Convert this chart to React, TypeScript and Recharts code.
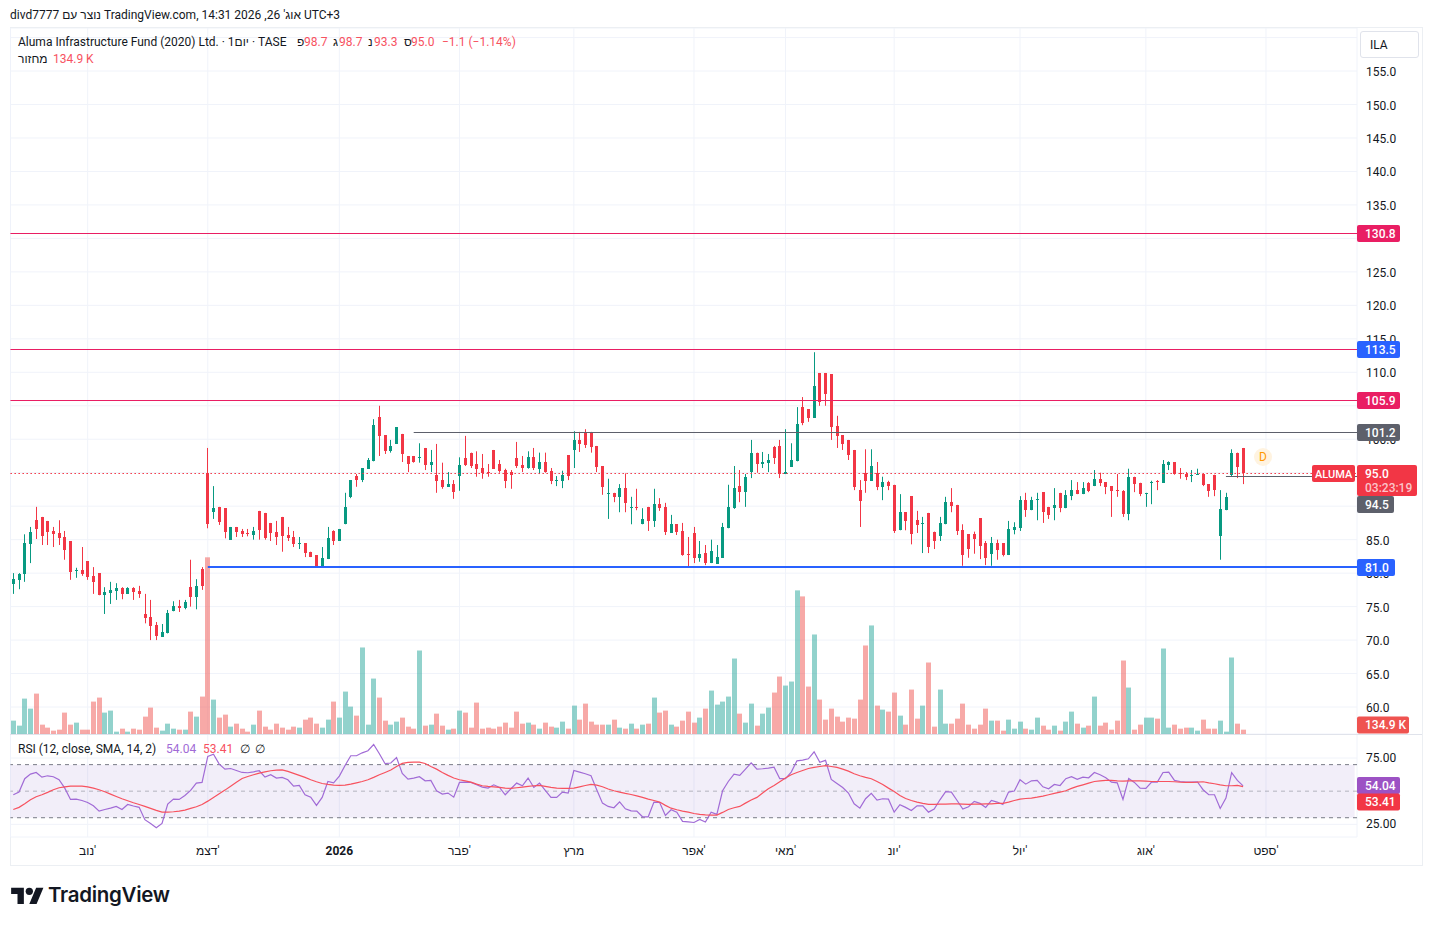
// Daily candlestick chart with volume and an RSI pane, TradingView-style.
// Three stacked Recharts charts share one band x axis of fixed slot width.

import { Bar, CartesianGrid, ComposedChart, Line, ReferenceArea, ReferenceLine, XAxis, YAxis } from "recharts";

const opens = [
  78.4, 79.0, 79.9, 84.3, 87.9, 88.4, 87.8, 86.3, 86.0, 85.4,
  84.8, 80.3, 80.5, 81.8, 79.6, 80.0, 76.7, 77.0, 77.3, 77.8,
  76.9, 77.8, 77.3, 73.9, 73.4, 72.2, 70.5, 71.0, 74.3, 75.1,
  74.8, 77.9, 76.4, 80.6, 94.9, 89.1, 89.9, 89.7, 85.0, 86.9,
  86.3, 86.0, 85.7, 89.3, 89.0, 87.5, 86.1, 88.4, 85.7, 85.4,
  84.3, 84.5, 83.2, 82.7, 81.0, 82.1, 86.3, 84.8, 87.3, 91.4,
  94.5, 93.9, 95.6, 96.7, 103.3, 100.6, 98.2, 99.3, 100.8, 97.5,
  97.5, 97.2, 98.7, 96.1, 94.7, 93.9, 92.9, 93.3, 94.4, 97.2,
  98.0, 96.3, 95.7, 95.1, 98.4, 96.3, 95.4, 95.1, 97.2, 96.1,
  95.6, 97.3, 95.6, 96.6, 95.3, 93.8, 93.8, 97.6, 98.4, 99.9,
  101.1, 100.9, 99.0, 96.0, 91.8, 92.0, 91.4, 92.7, 89.7, 89.9,
  87.3, 89.9, 87.8, 90.3, 89.9, 86.0, 87.3, 86.3, 82.9, 86.0,
  82.3, 83.0, 81.5, 81.4, 82.3, 86.7, 89.7, 93.0, 92.1, 95.1,
  98.0, 96.3, 96.4, 98.8, 99.0, 94.8, 95.9, 96.7, 104.8, 104.5,
  103.2, 109.9, 109.9, 109.7, 102.0, 100.6, 99.9, 98.4, 92.4, 95.0,
  93.8, 95.0, 92.9, 93.6, 93.2, 86.4, 89.1, 91.5, 88.0, 87.3,
  89.0, 86.2, 85.5, 87.3, 90.6, 90.2, 86.4, 85.8, 85.8, 88.2,
  84.5, 82.9, 84.5, 84.5, 82.7, 86.4, 86.7, 90.9, 89.4, 90.9,
  92.1, 89.9, 89.7, 92.0, 89.7, 91.5, 92.4, 91.8, 93.5, 93.0,
  94.1, 93.6, 93.0, 92.4, 92.3, 88.8, 94.4, 93.5, 91.8, 93.5,
  93.8, 93.5, 96.1, 96.6, 95.0, 94.8, 94.5, 94.7, 94.8, 93.3,
  94.7, 85.6, 89.4, 94.7, 98.0, 98.7,
];

const highs = [
  80.0, 80.0, 85.8, 86.9, 89.9, 88.4, 87.8, 86.9, 87.9, 86.3,
  84.8, 80.8, 83.9, 81.8, 80.9, 80.0, 77.9, 78.7, 78.5, 77.9,
  77.9, 77.9, 78.1, 76.9, 76.0, 72.7, 72.4, 74.5, 75.8, 76.0,
  76.0, 82.0, 79.1, 80.9, 98.7, 93.0, 89.9, 89.7, 86.9, 86.9,
  86.6, 86.6, 86.9, 89.3, 89.0, 87.5, 87.8, 88.4, 86.9, 86.3,
  85.4, 84.5, 83.2, 82.7, 83.9, 86.9, 86.4, 86.6, 92.0, 93.9,
  94.8, 95.7, 97.2, 103.0, 105.0, 100.6, 99.9, 101.8, 100.8, 97.5,
  97.5, 99.4, 98.7, 98.4, 99.3, 96.5, 95.1, 93.9, 97.3, 100.5,
  98.0, 98.2, 97.8, 96.3, 98.4, 96.9, 95.6, 95.4, 99.6, 97.5,
  98.2, 98.7, 98.0, 98.0, 95.7, 94.5, 95.3, 97.6, 101.2, 101.1,
  101.5, 101.1, 99.0, 96.0, 94.1, 92.0, 93.3, 94.9, 91.4, 92.6,
  89.7, 89.9, 92.6, 91.2, 90.5, 88.7, 87.3, 87.5, 85.4, 86.9,
  84.8, 84.2, 85.0, 84.2, 87.5, 93.2, 96.0, 95.4, 94.8, 99.9,
  98.0, 98.1, 97.8, 99.0, 99.9, 101.5, 99.4, 104.8, 106.3, 104.5,
  113.0, 109.9, 109.9, 109.7, 103.5, 100.6, 99.9, 98.4, 93.9, 98.5,
  98.5, 96.6, 94.4, 93.8, 93.2, 91.8, 89.1, 91.5, 89.3, 88.4,
  89.0, 86.2, 88.4, 91.4, 92.7, 90.2, 87.3, 85.8, 86.2, 88.2,
  84.8, 85.4, 85.0, 84.5, 87.8, 87.6, 91.5, 92.0, 91.4, 92.0,
  92.1, 89.9, 92.7, 92.0, 92.4, 93.9, 93.6, 93.6, 93.6, 95.4,
  95.0, 93.6, 93.0, 94.8, 92.4, 95.6, 94.4, 93.5, 92.0, 93.8,
  93.9, 96.9, 96.7, 96.6, 95.7, 95.1, 95.4, 95.6, 94.8, 93.3,
  94.7, 92.4, 92.0, 98.5, 98.0, 98.7,
];

const lows = [
  76.9, 77.6, 78.7, 81.5, 85.1, 84.2, 84.2, 83.9, 84.2, 82.0,
  79.0, 79.3, 79.6, 79.0, 76.9, 76.7, 73.9, 75.4, 76.0, 76.1,
  76.9, 76.0, 76.3, 72.5, 70.0, 70.0, 70.5, 71.0, 74.3, 74.2,
  74.6, 75.0, 74.6, 77.5, 86.7, 88.1, 87.2, 85.2, 85.0, 85.4,
  85.4, 85.5, 85.0, 85.0, 85.0, 84.8, 84.2, 83.2, 84.8, 83.9,
  83.6, 82.4, 82.4, 81.0, 81.0, 82.1, 84.2, 84.8, 87.3, 91.2,
  92.9, 93.6, 95.6, 96.7, 97.5, 97.8, 98.0, 99.3, 96.6, 95.1,
  96.5, 96.5, 95.4, 95.1, 92.0, 92.6, 92.9, 91.1, 92.3, 96.0,
  95.7, 94.4, 94.1, 94.4, 95.6, 95.0, 92.7, 92.6, 95.7, 95.1,
  95.6, 95.4, 94.8, 95.0, 93.3, 93.0, 92.7, 93.9, 95.7, 98.1,
  98.7, 98.0, 95.1, 91.7, 88.1, 90.6, 89.1, 89.1, 87.3, 89.4,
  87.3, 86.3, 86.9, 89.3, 85.7, 86.0, 85.7, 82.6, 81.0, 81.5,
  81.7, 81.2, 81.5, 81.4, 82.3, 86.7, 89.6, 90.6, 89.9, 94.2,
  95.0, 95.7, 95.1, 96.3, 94.2, 94.8, 95.9, 96.7, 102.1, 102.6,
  103.2, 105.0, 105.0, 99.9, 98.7, 98.4, 96.9, 92.4, 86.9, 92.0,
  93.8, 92.4, 90.9, 92.4, 86.0, 86.4, 86.4, 84.3, 86.0, 83.0,
  83.0, 83.6, 84.8, 87.3, 89.1, 85.7, 81.1, 82.3, 82.9, 82.1,
  81.2, 81.1, 82.0, 82.5, 82.7, 85.8, 86.3, 88.4, 89.4, 87.9,
  87.5, 88.1, 87.9, 89.1, 89.7, 90.9, 91.8, 91.8, 92.1, 93.0,
  93.0, 91.8, 88.4, 91.4, 88.4, 87.9, 92.1, 91.5, 89.9, 90.3,
  92.4, 93.5, 95.4, 94.7, 94.1, 93.9, 93.6, 94.7, 93.0, 91.4,
  91.5, 82.0, 89.4, 94.5, 94.2, 93.3,
];

const closes = [
  79.1, 79.9, 84.5, 86.1, 86.6, 85.5, 86.1, 85.8, 85.2, 83.4,
  80.2, 80.5, 79.9, 79.4, 78.7, 76.7, 77.2, 77.5, 77.8, 76.9,
  77.8, 77.2, 76.9, 73.3, 72.1, 70.5, 71.2, 74.0, 75.1, 74.8,
  75.7, 76.4, 78.1, 78.1, 87.3, 89.7, 87.6, 86.1, 86.9, 86.1,
  85.8, 85.8, 86.3, 86.4, 85.2, 86.0, 85.4, 85.5, 85.2, 84.3,
  84.5, 83.0, 82.5, 81.0, 82.3, 85.2, 84.8, 86.6, 89.9, 93.9,
  93.9, 95.7, 96.9, 102.1, 100.5, 98.2, 99.0, 101.8, 97.8, 96.3,
  96.6, 97.3, 96.1, 96.6, 93.8, 92.9, 93.3, 92.1, 96.1, 96.1,
  96.1, 95.6, 95.0, 94.9, 95.6, 95.3, 93.8, 94.7, 96.0, 95.6,
  97.3, 95.6, 96.6, 95.1, 93.8, 93.9, 94.7, 94.4, 99.9, 99.3,
  99.1, 98.8, 95.8, 92.9, 92.0, 91.4, 92.7, 90.5, 89.9, 89.7,
  88.1, 87.8, 90.3, 89.7, 86.1, 87.3, 86.1, 82.7, 82.7, 82.3,
  82.9, 81.5, 83.3, 82.4, 86.9, 89.9, 92.7, 92.1, 94.4, 98.0,
  96.3, 96.6, 96.9, 97.2, 94.8, 95.1, 96.9, 102.3, 102.4, 103.2,
  108.0, 105.6, 106.8, 101.8, 100.5, 99.3, 97.6, 92.9, 90.8, 93.8,
  96.0, 92.9, 93.6, 93.0, 86.4, 89.1, 87.8, 85.8, 87.3, 87.5,
  83.9, 84.8, 87.5, 90.6, 90.0, 86.3, 82.7, 83.5, 85.1, 84.0,
  82.3, 84.5, 83.5, 82.7, 86.6, 86.9, 90.9, 89.4, 90.9, 91.1,
  89.1, 88.7, 90.2, 89.7, 91.7, 92.4, 91.8, 92.7, 92.3, 94.1,
  93.5, 92.9, 92.3, 92.3, 88.8, 94.4, 93.3, 91.8, 92.0, 93.6,
  93.6, 96.3, 96.6, 94.8, 94.8, 94.4, 94.7, 94.8, 93.2, 92.3,
  92.4, 89.6, 91.4, 98.0, 95.9, 95.0,
];

// volume in thousands of shares
const volumes = [
  416, 260, 1102, 790, 1258, 291, 198, 104, 135, 666,
  291, 354, 135, 135, 1009, 1134, 666, 728, 73, 166,
  73, 166, 135, 541, 822, 198, 104, 322, 166, 135,
  135, 697, 541, 1165, 5502, 1071, 510, 603, 229, 322,
  166, 73, 291, 728, 229, 135, 322, 198, 135, 229,
  198, 447, 510, 322, 198, 447, 1009, 510, 1321, 853,
  572, 2694, 291, 1726, 1134, 416, 291, 385, 510, 229,
  166, 2600, 260, 291, 634, 260, 135, 166, 728, 666,
  198, 978, 166, 198, 166, 229, 354, 198, 697, 322,
  354, 291, 166, 354, 229, 198, 385, 166, 884, 447,
  946, 385, 291, 291, 291, 447, 198, 166, 322, 166,
  291, 322, 1134, 666, 728, 291, 229, 416, 697, 354,
  510, 790, 1352, 915, 1009, 1165, 2350, 634, 354, 946,
  260, 634, 822, 1290, 1789, 1508, 1633, 4472, 4285, 1477,
  3099, 1071, 447, 790, 541, 385, 510, 478, 1071, 2756,
  3380, 884, 759, 697, 1290, 572, 291, 1383, 478, 884,
  2226, 229, 1383, 322, 322, 478, 946, 291, 166, 291,
  790, 416, 416, 104, 447, 166, 385, 166, 135, 510,
  260, 135, 260, 104, 385, 697, 322, 198, 260, 1165,
  260, 354, 135, 416, 2288, 1446, 135, 291, 510, 510,
  478, 2662, 198, 291, 166, 198, 198, 104, 447, 166,
  166, 416, 73, 2382, 322, 134.9,
];

const rsiValues = [
  47.3, 49.3, 59.4, 62.9, 64.1, 60.6, 61.6, 60.9, 58.6, 52.3,
  43.8, 44.0, 43.0, 41.5, 39.0, 35.0, 36.2, 37.2, 38.5, 36.2,
  40.0, 38.8, 37.8, 28.5, 25.7, 22.4, 25.7, 40.3, 44.0, 43.8,
  46.8, 50.6, 56.1, 56.6, 76.2, 77.9, 70.4, 66.6, 67.1, 65.6,
  64.1, 63.9, 64.6, 65.4, 60.6, 62.4, 59.9, 60.4, 58.6, 53.8,
  54.3, 47.3, 45.5, 39.3, 45.3, 57.3, 56.3, 61.4, 69.4, 76.7,
  76.7, 78.9, 80.5, 85.2, 78.2, 70.7, 71.2, 75.4, 63.4, 59.1,
  59.9, 60.9, 57.8, 58.1, 50.3, 47.8, 48.6, 45.5, 56.6, 56.8,
  56.6, 54.8, 53.1, 52.3, 54.8, 52.8, 47.3, 51.8, 56.1, 54.1,
  59.9, 52.8, 56.1, 50.6, 45.3, 45.3, 49.3, 48.6, 65.6, 64.4,
  63.1, 61.6, 51.1, 41.0, 38.5, 37.5, 42.0, 36.7, 35.2, 35.0,
  30.7, 30.7, 41.8, 41.5, 31.7, 36.0, 34.2, 27.2, 26.9, 26.4,
  28.7, 26.7, 34.2, 32.5, 50.3, 57.3, 62.9, 61.9, 66.6, 71.4,
  66.6, 66.9, 67.4, 68.1, 59.4, 59.4, 64.4, 72.9, 73.4, 74.4,
  79.7, 71.7, 73.2, 58.9, 55.8, 52.8, 48.6, 40.5, 37.2, 44.3,
  48.3, 43.3, 44.3, 44.0, 34.2, 39.8, 37.8, 35.5, 39.0, 39.0,
  34.2, 36.5, 43.5, 49.6, 49.3, 43.0, 36.5, 38.3, 42.3, 40.8,
  37.8, 43.0, 41.8, 40.0, 49.3, 50.1, 58.6, 55.3, 57.8, 58.1,
  53.3, 51.8, 55.1, 54.3, 59.4, 60.9, 58.9, 60.6, 60.1, 64.1,
  62.4, 60.1, 56.8, 56.3, 43.8, 59.6, 56.6, 52.3, 52.1, 56.8,
  56.8, 64.1, 64.4, 58.1, 57.3, 56.8, 56.8, 57.1, 51.1, 47.3,
  47.3, 37.0, 44.8, 63.9, 58.1, 54.04,
];

const rsiSma = [
  36.2, 37.8, 40.5, 43.5, 45.8, 47.3, 49.1, 51.1, 52.6, 53.3,
  53.8, 53.8, 53.8, 53.3, 52.3, 51.1, 49.6, 47.8, 46.0, 44.3,
  42.8, 41.3, 40.0, 38.5, 37.0, 35.5, 34.2, 34.2, 34.5, 35.0,
  35.7, 37.0, 38.3, 40.0, 42.5, 45.3, 48.0, 50.8, 53.8, 56.8,
  59.6, 61.1, 62.4, 63.6, 64.6, 65.4, 65.9, 66.1, 64.9, 63.4,
  61.9, 60.4, 58.6, 57.1, 55.8, 55.1, 54.6, 54.3, 54.6, 55.3,
  56.3, 57.3, 58.6, 60.4, 62.4, 64.1, 65.9, 68.6, 70.9, 71.7,
  71.9, 71.9, 70.9, 68.6, 66.6, 64.1, 61.9, 59.9, 58.6, 57.8,
  56.8, 55.3, 54.1, 53.6, 53.3, 52.8, 52.3, 52.1, 52.6, 53.1,
  53.6, 54.1, 54.3, 53.6, 52.8, 52.3, 52.1, 52.1, 52.3, 53.3,
  54.3, 55.1, 54.6, 53.3, 51.6, 50.3, 49.3, 48.3, 47.5, 46.5,
  45.3, 44.0, 43.0, 41.8, 39.3, 37.2, 36.0, 35.0, 34.2, 33.2,
  32.5, 32.2, 32.0, 32.0, 34.0, 36.2, 37.5, 38.5, 41.0, 43.3,
  45.3, 48.6, 51.8, 54.3, 57.1, 59.9, 62.4, 64.1, 65.6, 67.1,
  67.9, 68.6, 69.2, 68.6, 67.9, 66.6, 65.1, 63.1, 61.6, 60.4,
  59.4, 57.3, 55.1, 52.3, 49.8, 46.8, 44.5, 43.0, 41.8, 40.8,
  40.0, 40.0, 40.3, 40.3, 40.5, 40.5, 40.3, 40.0, 40.3, 40.3,
  40.5, 40.5, 40.8, 40.8, 41.8, 43.0, 44.0, 44.5, 44.8, 45.5,
  46.3, 47.3, 48.3, 49.3, 50.3, 52.1, 53.6, 54.8, 56.1, 57.3,
  57.8, 58.1, 58.1, 57.8, 57.6, 57.8, 57.8, 57.8, 57.6, 57.3,
  57.3, 57.3, 57.3, 57.1, 56.8, 56.6, 56.6, 56.8, 57.1, 56.3,
  55.6, 54.8, 54.1, 54.1, 54.3, 53.41,
];

const priceTicks = [160, 155, 150, 145, 140, 135, 130, 125, 120, 115, 110, 105, 100, 95, 90, 85, 80, 75, 70, 65, 60];
const hiddenPriceTicks = [160, 130, 105, 95, 90];
const rsiTicks = [75, 25];

// bar numbers where a new month starts
const monthTicks = [14, 35, 58, 79, 99, 120, 136, 155, 177, 199, 220];
const monthLabels = ["נוב'", "דצמ'", "2026", "פבר'", "מרץ", "אפר'", "מאי'", "יונ'", "יול'", "אוג'", "ספט'"];

const SLOTS = 235; // 216 bars plus empty room on the right
const LEFT = 10.44;
const RIGHT = 1357;
const AXIS_W = 1432 - RIGHT;
const FONT = "Roboto, 'Noto Sans', sans-serif";
const INK = "#131722";
const GRID = "#f0f3fa";
const UP = "#089981";
const DOWN = "#f23645";

const rows = Array.from({ length: SLOTS }, (_, k) => ({
  i: k + 1,
  open: opens[k] ?? null,
  high: highs[k] ?? null,
  low: lows[k] ?? null,
  close: closes[k] ?? null,
  volume: volumes[k] ?? null,
  rsi: rsiValues[k] ?? null,
  sma: rsiSma[k] ?? null,
}));

// snap a level to a whole pixel row so 1px lines stay sharp
const crisp = (y: number) => Math.floor(y + 0.9) + 0.5;

function Candle(props: any) {
  const { x, y, width, height, payload } = props;
  if (payload.high == null) return <g />;
  const top = Math.min(y, y + height);
  const h = Math.abs(height);
  const perUnit = h / (payload.high - payload.low || 1);
  const cx = Math.floor(x + width / 2);
  const color = payload.close >= payload.open ? UP : DOWN;
  const bodyTop = Math.round(top + (payload.high - Math.max(payload.open, payload.close)) * perUnit);
  const bodyH = Math.max(1, Math.round(Math.abs(payload.open - payload.close) * perUnit));
  return (
    <g>
      <rect x={cx} y={top} width={1} height={h} fill={color} />
      <rect x={cx - 1} y={bodyTop} width={3} height={bodyH} fill={color} />
    </g>
  );
}

function VolumeBar(props: any) {
  const { x, y, width, height, payload } = props;
  if (payload.volume == null) return <g />;
  const cx = Math.floor(x + width / 2);
  const up = payload.close >= payload.open;
  return <rect x={cx - 2} y={y} width={5} height={height} fill={up ? "rgba(38,166,154,0.5)" : "rgba(239,83,80,0.5)"} />;
}

// coloured value box sitting on the price scale
function tag(text: string, bg: string, w = 43, dy = 0) {
  return (props: any) => {
    const y = crisp(props.viewBox.y) + dy;
    return (
      <g>
        <rect x={RIGHT} y={y - 8.5} width={w} height={17} rx={2} fill={bg} />
        <text x={RIGHT + 8} y={y + 4.2} fill="#fff" fontSize={12} fontWeight={500} fontFamily={FONT}>
          {text}
        </text>
      </g>
    );
  };
}

function lastPriceTag(props: any) {
  const y = crisp(props.viewBox.y);
  return (
    <g fontFamily={FONT} fontSize={12} fontWeight={500}>
      <rect x={1312} y={y - 8.5} width={43} height={17} rx={2} fill={DOWN} />
      <text x={1315} y={y + 4.2} fill="#fff" fontSize={11}>ALUMA</text>
      <rect x={RIGHT} y={y - 8.5} width={60} height={31} rx={2} fill={DOWN} />
      <text x={RIGHT + 8} y={y + 4.2} fill="#fff">95.0</text>
      <text x={RIGHT + 8} y={y + 18.2} fill="#fbc4c9">03:23:19</text>
    </g>
  );
}

// level line drawn from its first bar out to the edge of the plot
function toEdge(color: string, width = 1, dash?: string) {
  return (p: any) => {
    const y = width === 2 ? Math.floor(p.y1 + 0.9) : crisp(p.y1);
    return <line x1={p.x1} y1={y} x2={RIGHT} y2={y} stroke={color} strokeWidth={width} strokeDasharray={dash} />;
  };
}

function PriceTick(props: any) {
  const { x, y, payload } = props;
  if (hiddenPriceTicks.includes(payload.value)) return <g />;
  return (
    <text x={x + 1} y={y + 5} fill={INK} fontSize={12} fontFamily={FONT}>
      {payload.value.toFixed(1)}
    </text>
  );
}

function RsiTick(props: any) {
  const { x, y, payload } = props;
  return (
    <text x={x + 1} y={y + 3.5} fill={INK} fontSize={12} fontFamily={FONT}>
      {payload.value.toFixed(2)}
    </text>
  );
}

function MonthTick(props: any) {
  const { x, payload } = props;
  const label = monthLabels[monthTicks.indexOf(payload.value)];
  return (
    <text x={x} y={121} textAnchor="middle" fill={INK} fontSize={12} fontFamily={FONT} fontWeight={label === "2026" ? 700 : 400}>
      {label}
    </text>
  );
}

function at(left: number, top: number, color: string, text: string, size = 12) {
  return (
    <span style={{ position: "absolute", left, top, color, fontSize: size, lineHeight: "14px", whiteSpace: "nowrap" }}>{text}</span>
  );
}

export default function App() {
  return (
    <div style={{ position: "absolute", left: 0, top: 0, width: 1432, height: 925, background: "#fff", fontFamily: FONT, overflow: "hidden" }}>
      <div style={{ position: "absolute", left: 10, top: 27, width: 1411, height: 837, border: "1px solid #eceff3" }} />

      {/* grid, price scale and volume sit under the candles */}
      <div style={{ position: "absolute", left: 0, top: 28 }}>
        <ComposedChart width={1432} height={706} data={rows} barCategoryGap={0} margin={{ top: 0, right: 0, bottom: 0, left: LEFT }}>
          <CartesianGrid stroke={GRID} yAxisId="price" />
          <XAxis dataKey="i" hide scale="band" ticks={monthTicks} interval={0} padding={{ left: 0, right: 2.36 }} />
          <YAxis yAxisId="price" orientation="right" width={AXIS_W} type="number" domain={[55.97, 161.43]} allowDataOverflow ticks={priceTicks} interval={0} tick={PriceTick} tickLine={false} axisLine={false} />
          <YAxis yAxisId="vol" hide type="number" domain={[0, 21985]} allowDataOverflow />
          <Bar yAxisId="vol" dataKey="volume" shape={VolumeBar} isAnimationActive={false} />
          <ReferenceLine yAxisId="vol" y={134.9} stroke="none" label={tag("134.9 K", "#ef5350", 52, -5.5)} />
        </ComposedChart>
      </div>

      {/* candles and drawn levels */}
      <div style={{ position: "absolute", left: 0, top: 28 }}>
        <ComposedChart width={1432} height={706} data={rows} barCategoryGap={0} margin={{ top: 0, right: AXIS_W, bottom: 0, left: LEFT }}>
          <XAxis dataKey="i" hide scale="band" padding={{ left: 0, right: 2.36 }} />
          <YAxis hide type="number" domain={[55.97, 161.43]} allowDataOverflow />
          <ReferenceLine y={95} shape={toEdge(DOWN, 1, "1.5 2.5")} />
          <Bar dataKey={(d: any) => (d.high == null ? null : [d.low, d.high])} shape={Candle} isAnimationActive={false} />
          <ReferenceLine y={130.8} shape={toEdge("#e91e63")} label={tag("130.8", "#e91e63")} />
          <ReferenceLine y={113.5} shape={toEdge("#e91e63")} label={tag("113.5", "#2962ff", 43)} />
          <ReferenceLine y={105.9} shape={toEdge("#e91e63")} label={tag("105.9", "#e91e63")} />
          <ReferenceLine segment={[{ x: 71, y: 101.2 }, { x: 235, y: 101.2 }]} shape={toEdge("#5d606b")} label={tag("101.2", "#5d606b")} />
          <ReferenceLine segment={[{ x: 35, y: 81 }, { x: 235, y: 81 }]} shape={toEdge("#2962ff", 2)} label={tag("81.0", "#2962ff", 38)} />
          <ReferenceLine segment={[{ x: 213, y: 94.5 }, { x: 235, y: 94.5 }]} shape={toEdge("#5d606b")} label={tag("94.5", "#5d606b", 37, 28)} />
          <ReferenceLine y={95} stroke="none" label={lastPriceTag} />
        </ComposedChart>
      </div>

      {/* RSI pane with the time scale below it */}
      <div style={{ position: "absolute", left: 0, top: 734 }}>
        <ComposedChart width={1432} height={131} data={rows} margin={{ top: 0, right: 0, bottom: 0, left: LEFT }}>
          <CartesianGrid stroke={GRID} />
          <XAxis dataKey="i" scale="band" height={28} ticks={monthTicks} interval={0} tick={MonthTick} tickLine={false} axisLine={false} padding={{ left: 0, right: 2.36 }} />
          <YAxis orientation="right" width={AXIS_W} type="number" domain={[15.47, 93.09]} allowDataOverflow ticks={rsiTicks} interval={0} tick={RsiTick} tickLine={false} axisLine={false} />
          <ReferenceArea y1={30} y2={70} fill="#7e57c2" fillOpacity={0.1} stroke="none" />
          <ReferenceLine y={70} stroke="#787b86" strokeDasharray="4 4" />
          <ReferenceLine y={50} stroke="#787b86" strokeOpacity={0.5} strokeDasharray="4 4" />
          <ReferenceLine y={30} stroke="#787b86" strokeDasharray="4 4" />
          <Line dataKey="rsi" stroke="#a16bd6" strokeWidth={1.2} dot={false} isAnimationActive={false} />
          <Line dataKey="sma" stroke="#f7525f" strokeWidth={1.2} dot={false} isAnimationActive={false} />
          <ReferenceLine y={54.04} stroke="none" label={tag("54.04", "#9c52c4", 43, -1)} />
          <ReferenceLine y={53.41} stroke="none" label={tag("53.41", DOWN, 43, 14.5)} />
        </ComposedChart>
      </div>

      <div style={{ position: "absolute", left: 10, top: 734, width: 1412, height: 1, background: "#e0e3eb" }} />

      {at(10, 8, INK, "divd7777 נוצר עם TradingView.com, אוג' 26, 2026 14:31 UTC+3")}

      {at(18, 35, INK, "Aluma Infrastructure Fund (2020) Ltd. · 1יום · TASE")}
      {at(297, 35, INK, "פ")}
      {at(304, 35, "#f7525f", "98.7")}
      {at(333, 35, INK, "ג")}
      {at(339, 35, "#f7525f", "98.7")}
      {at(368, 35, INK, "נ")}
      {at(374, 35, "#f7525f", "93.3")}
      {at(404, 35, INK, "ס")}
      {at(411, 35, "#f7525f", "95.0")}
      {at(442, 35, "#f7525f", "−1.1 (−1.14%)")}
      {at(18, 52, INK, "מחזור")}
      {at(53, 52, "#f7525f", "134.9 K")}

      {at(18, 742, INK, "RSI (12, close, SMA, 14, 2)")}
      {at(166, 742, "#a16bd6", "54.04")}
      {at(203, 742, "#f7525f", "53.41")}
      {at(240, 742, INK, "∅")}
      {at(255, 742, INK, "∅")}

      <div style={{ position: "absolute", left: 1360, top: 31, width: 57, height: 25, border: "1px solid #e0e3eb", borderRadius: 3, background: "#fff" }} />
      {at(1370, 38, INK, "ILA")}

      {/* upcoming dividend marker */}
      <div style={{ position: "absolute", left: 1254, top: 448, width: 18, height: 18, borderRadius: 9, background: "#fff3e0", color: "#ff9800", fontSize: 12, lineHeight: "18px", textAlign: "center" }}>D</div>

      <svg style={{ position: "absolute", left: 11, top: 884 }} width={33} height={20} viewBox="0 0 36 22">
        <path d="M14 22H7V11H0V4h14v18zM28 22h-8l7.5-18h8L28 22z" fill="#131722" />
        <circle cx={20} cy={8} r={4} fill="#131722" />
      </svg>
      <span style={{ position: "absolute", left: 48, top: 882, fontFamily: "Inter, sans-serif", fontSize: 20.5, lineHeight: "26px", fontWeight: 600, color: "#131722", letterSpacing: -0.3 }}>TradingView</span>
    </div>
  );
}
